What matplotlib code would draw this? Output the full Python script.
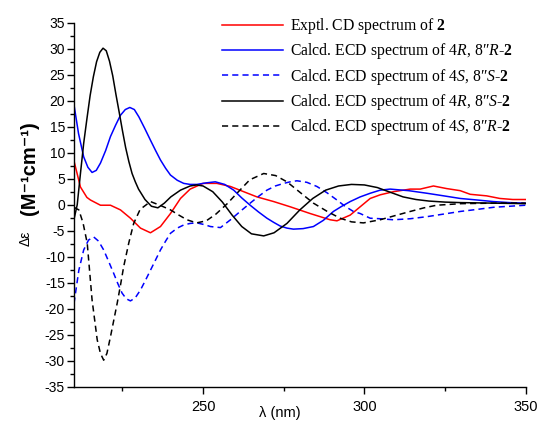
import matplotlib
matplotlib.use("Agg")
import matplotlib.pyplot as plt
from matplotlib.ticker import MultipleLocator

# ---------------- data ----------------
wl_exp = [210, 212, 214, 215.1, 218.2, 221.3, 224.4, 227.5, 230.6, 233.7, 236.8, 239.9, 243, 246, 250,
          254.3, 258.5, 262.6, 266.7, 271.9, 277, 283.2, 289.4, 291.5, 295.6, 298.7, 301.8, 304.9, 309,
          314.2, 317.3, 321.4, 325.5, 329.7, 332.8, 337.9, 342, 346, 350]
cd_exp = [8.4, 3.4, 1.4, 0.9, -0.1, -0.1, -1.0, -2.6, -4.5, -5.4, -4.2, -1.7, 1.2, 3.0, 4.1,
          4.1, 3.5, 2.5, 1.5, 0.6, -0.4, -1.7, -2.9, -3.1, -2.0, -0.4, 1.2, 1.9, 2.5,
          3.0, 3.0, 3.6, 3.1, 2.7, 2.0, 1.7, 1.2, 1.0, 1.0]

wl_rr = [210, 211.4, 213, 214.3, 215.6, 216.9, 218.2, 219.8, 221.3, 222.9, 224.4, 225.9, 227.3, 228.7,
         230.1, 231.9, 233.7, 235.3, 236.8, 238.4, 239.9, 242, 244, 246, 248.1, 251, 253.8, 256.7,
         259.5, 262, 264.6, 267.2, 269.8, 271.9, 273.9, 276, 278, 281, 284.2, 287.3, 290.4, 293,
         295.6, 298.7, 301.8, 304.9, 308, 313.7, 319.4, 324.6, 329.7, 335, 340, 345, 350]
ecd_rr = [19.2, 13.7, 9.2, 7.2, 6.2, 6.6, 8.0, 10.4, 13.1, 15.3, 17.2, 18.3, 18.7, 18.3,
          16.9, 14.7, 12.4, 10.4, 8.6, 7.0, 5.7, 4.7, 4.1, 3.9, 3.9, 4.2, 4.4, 3.9,
          2.8, 1.3, -0.1, -1.4, -2.6, -3.4, -4.1, -4.5, -4.7, -4.6, -4.2, -3.0, -1.3, -0.3,
          0.6, 1.5, 2.2, 2.8, 3.0, 2.7, 2.2, 1.7, 1.2, 0.9, 0.6, 0.4, 0.3]

wl_ss = [210, 211.5, 213, 214.5, 216.1, 217.6, 219.2, 220.8, 222.3, 223.6, 224.9, 226.2, 227.5, 229,
         230.6, 232.1, 233.7, 235.3, 236.8, 238.4, 239.9, 242, 244, 246, 248.1, 250.2, 252.3, 255.4,
         258.5, 261.5, 264.6, 267.2, 269.8, 272.4, 275, 277, 279.1, 282.2, 285.3, 288.4, 291.5, 294,
         296.6, 298.7, 301.8, 304.9, 309, 314.2, 319.4, 324.6, 329.7, 335, 340, 345, 350]
ecd_ss = [-19.0, -12.6, -8.7, -6.8, -6.2, -7.0, -8.7, -11.0, -13.2, -15.2, -17.0, -18.1, -18.5, -17.9,
          -16.4, -14.6, -12.6, -10.6, -8.7, -7.0, -5.5, -4.5, -3.9, -3.6, -3.5, -3.8, -4.2, -4.4,
          -2.9, -1.3, 0.3, 1.6, 2.8, 3.6, 4.1, 4.4, 4.6, 4.3, 3.5, 2.3, 0.9, -0.3,
          -1.3, -1.7, -2.6, -2.7, -2.9, -2.7, -2.3, -1.8, -1.3, -0.9, -0.5, -0.3, -0.1]

wl_rs = [210, 211, 212, 213, 214, 215, 216, 217, 218, 219, 220, 221, 222, 223, 224, 225, 226, 227,
         228, 229, 230, 232, 234, 236, 238, 240, 243, 246, 248, 250, 253, 256, 259, 262, 265, 268.8,
         272, 276, 280, 284, 288, 292, 296, 300, 304, 308, 312, 316, 320, 325, 330, 340, 350]
ecd_rs = [-2.8, 0.0, 6.0, 11.8, 16.5, 21.0, 24.6, 27.5, 29.3, 30.1, 29.6, 27.6, 24.8, 21.2, 17.8, 14.3, 11.0, 8.3,
          6.0, 4.4, 3.0, 1.0, -0.3, -0.6, 0.3, 1.5, 2.8, 3.6, 3.8, 3.6, 2.5, 0.5, -2.0, -4.2, -5.6, -6.0,
          -5.4, -3.6, -1.0, 1.2, 2.8, 3.6, 3.9, 3.8, 3.3, 2.4, 1.5, 1.0, 0.7, 0.5, 0.4, 0.3, 0.2]

wl_sr = [210, 211.5, 212.8, 214.1, 215.6, 217.2, 218.2, 219.2, 220.2, 221.3, 222.4, 223.4, 224.4, 225.4,
         227, 228.5, 230.5, 233.7, 237, 239.9, 242.5, 245, 248, 251, 254, 257.5, 260.5, 264.5, 268.8,
         272.5, 276, 280, 284.2, 288.5, 292.5, 296, 299.7, 304.9, 309.5, 314.2, 318.5, 322.4, 330, 340, 350]
ecd_sr = [-0.5, -1.0, -3.5, -7.4, -18.3, -26.0, -28.6, -29.9, -28.6, -25.4, -22.0, -18.9, -15.5, -11.9,
          -7.3, -3.6, -0.9, 0.6, -0.2, -1.0, -2.0, -2.9, -3.5, -3.1, -1.8, 0.2, 2.2, 4.8, 6.0,
          5.6, 4.4, 2.4, 0.3, -1.3, -2.6, -3.3, -3.5, -2.9, -2.1, -1.3, -0.6, -0.1, 0.2, 0.3, 0.3]

labels = [
    "Exptl. CD spectrum of $\\mathbf{2}$",
    "Calcd. ECD spectrum of 4$\\mathit{R}$, 8″$\\mathit{R}$-$\\mathbf{2}$",
    "Calcd. ECD spectrum of 4$\\mathit{S}$, 8″$\\mathit{S}$-$\\mathbf{2}$",
    "Calcd. ECD spectrum of 4$\\mathit{R}$, 8″$\\mathit{S}$-$\\mathbf{2}$",
    "Calcd. ECD spectrum of 4$\\mathit{S}$, 8″$\\mathit{R}$-$\\mathbf{2}$",
]
xticks = [250, 300, 350]
yticks = list(range(-35, 40, 5))

# ---------------- style ----------------
plt.rcParams['mathtext.fontset'] = 'custom'
plt.rcParams['mathtext.rm'] = 'Liberation Serif'
plt.rcParams['mathtext.it'] = 'Liberation Serif:italic'
plt.rcParams['mathtext.bf'] = 'Liberation Serif:bold'
plt.rcParams['font.family'] = ['Liberation Sans', 'DejaVu Sans']
plt.rcParams['axes.unicode_minus'] = False

fig = plt.figure(figsize=(5.37, 4.21), dpi=100)
ax = fig.add_axes([74 / 537, 1 - 386.7 / 421, (525.7 - 74) / 537, (386.7 - 22.7) / 421])

lw = 1.1
dash = (4, 2.7)
ax.plot(wl_exp, cd_exp, color='#ff0000', lw=lw, label=labels[0])
ax.plot(wl_rr, ecd_rr, color='#0000ff', lw=lw, label=labels[1])
ax.plot(wl_ss, ecd_ss, color='#0000ff', lw=lw, ls=(0, dash), label=labels[2])
ax.plot(wl_rs, ecd_rs, color='#000000', lw=lw, label=labels[3])
ax.plot(wl_sr, ecd_sr, color='#000000', lw=lw, ls=(0, dash), label=labels[4])

ax.set_xlim(210, 350)
ax.set_ylim(-35, 35)
ax.set_xticks(xticks)
ax.xaxis.set_minor_locator(MultipleLocator(25))
ax.set_yticks(yticks)
ax.yaxis.set_minor_locator(MultipleLocator(2.5))
for s in ['top', 'right']:
    ax.spines[s].set_visible(False)
for s in ['left', 'bottom']:
    ax.spines[s].set_linewidth(1.0)
ax.tick_params(axis='both', which='major', direction='out', length=5, width=1.0)
ax.tick_params(axis='both', which='minor', direction='out', length=3, width=1.0)
ax.tick_params(axis='x', which='major', labelsize=10.5, pad=4.5)
ax.tick_params(axis='y', which='major', labelsize=10, pad=1.5)

fig.text(280 / 537, 1 - 413 / 421, "λ (nm)", fontsize=10.5, ha='center', va='center')
fig.text(26 / 537, 1 - 238 / 421, "Δε", fontsize=10, rotation=90, ha='center', va='center')
fig.text(30 / 537, 1 - 168 / 421, "(M⁻¹cm⁻¹)", fontsize=14.5, fontweight='bold', rotation=90,
         ha='center', va='center')

leg = ax.legend(loc='upper left', bbox_to_anchor=(222 / 537, 1 - 16 / 421),
                bbox_transform=fig.transFigure, frameon=False, borderpad=0, borderaxespad=0,
                handlelength=3.9, handletextpad=0.45, labelspacing=0.34,
                prop={'family': 'Liberation Serif', 'size': 11.3})

fig.savefig("out.png", dpi=100)
